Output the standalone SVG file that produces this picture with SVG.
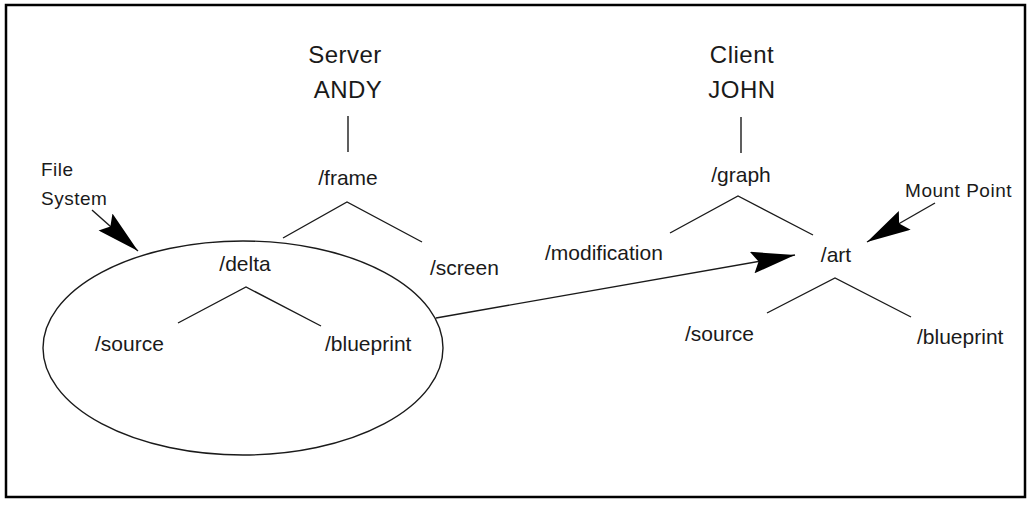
<svg xmlns="http://www.w3.org/2000/svg" width="1027" height="505" viewBox="0 0 1027 505">
  <style>
    text { font-family: "Liberation Sans", Arial, sans-serif; fill: #1a1a1a; }
    .host { font-size: 24px; text-anchor: middle; letter-spacing: 0.5px; }
    .dir { font-size: 21px; }
    .note { font-size: 19px; letter-spacing: 0.5px; }
    .mid { text-anchor: middle; }
    .ln { stroke: #1a1a1a; stroke-width: 1.4; fill: none; }
    .arr { stroke: #1a1a1a; stroke-width: 1.4; fill: none; marker-end: url(#head); }
  </style>
  <defs>
    <marker id="head" viewBox="0 0 44 22" refX="44" refY="11" markerWidth="44" markerHeight="22" markerUnits="userSpaceOnUse" orient="auto">
      <path d="M0,0 L44,11 L1,22 L7,11 Z" fill="#000"/>
    </marker>
  </defs>
  <rect x="0" y="0" width="1027" height="505" fill="#fff"/>
  <rect id="frame-border" x="6" y="5" width="1019" height="492" fill="none" stroke="#000" stroke-width="2.5"/>

  <g id="server">
    <text class="host" x="345" y="63">Server</text>
    <text class="host" x="348" y="98">ANDY</text>
  </g>
  <g id="client">
    <text class="host" x="742" y="63">Client</text>
    <text class="host" x="742" y="98">JOHN</text>
  </g>
  <g id="dir-frame"><text class="dir mid" x="348" y="185">/frame</text></g>
  <g id="dir-screen"><text class="dir" x="430" y="275">/screen</text></g>
  <g id="filesystem">
    <ellipse cx="243" cy="348" rx="200" ry="107" fill="none" stroke="#1a1a1a" stroke-width="1.4"/>
  </g>
  <g id="dir-delta"><text class="dir mid" x="245" y="271">/delta</text></g>
  <g id="dir-source-left"><text class="dir" x="95" y="351">/source</text></g>
  <g id="dir-blueprint-left"><text class="dir" x="325" y="351">/blueprint</text></g>
  <g id="dir-graph"><text class="dir mid" x="741" y="182">/graph</text></g>
  <g id="dir-modification"><text class="dir" x="545" y="260">/modification</text></g>
  <g id="dir-art"><text class="dir mid" x="836" y="262">/art</text></g>
  <g id="dir-source-right"><text class="dir" x="685" y="341">/source</text></g>
  <g id="dir-blueprint-right"><text class="dir" x="917" y="344">/blueprint</text></g>
  <g id="label-filesystem">
    <text class="note" x="41" y="176">File</text>
    <text class="note" x="41" y="205">System</text>
  </g>
  <g id="label-mountpoint">
    <text class="note" x="1012" y="197" text-anchor="end">Mount Point</text>
  </g>

  <g id="connectors">
    <line class="ln" x1="348" y1="116" x2="348" y2="152"/>
    <line class="ln" x1="741" y1="117" x2="741" y2="153"/>
    <polyline class="ln" points="283,238 347,202 422,242"/>
    <polyline class="ln" points="178,323 246,287 321,326"/>
    <polyline class="ln" points="670,233 738,196 813,235"/>
    <polyline class="ln" points="767,313 835,278 911,317"/>
    <line class="arr" x1="436" y1="318" x2="795" y2="255"/>
    <line class="arr" x1="92" y1="210" x2="138" y2="251"/>
    <line class="arr" x1="935" y1="203" x2="867" y2="242"/>
  </g>
</svg>
